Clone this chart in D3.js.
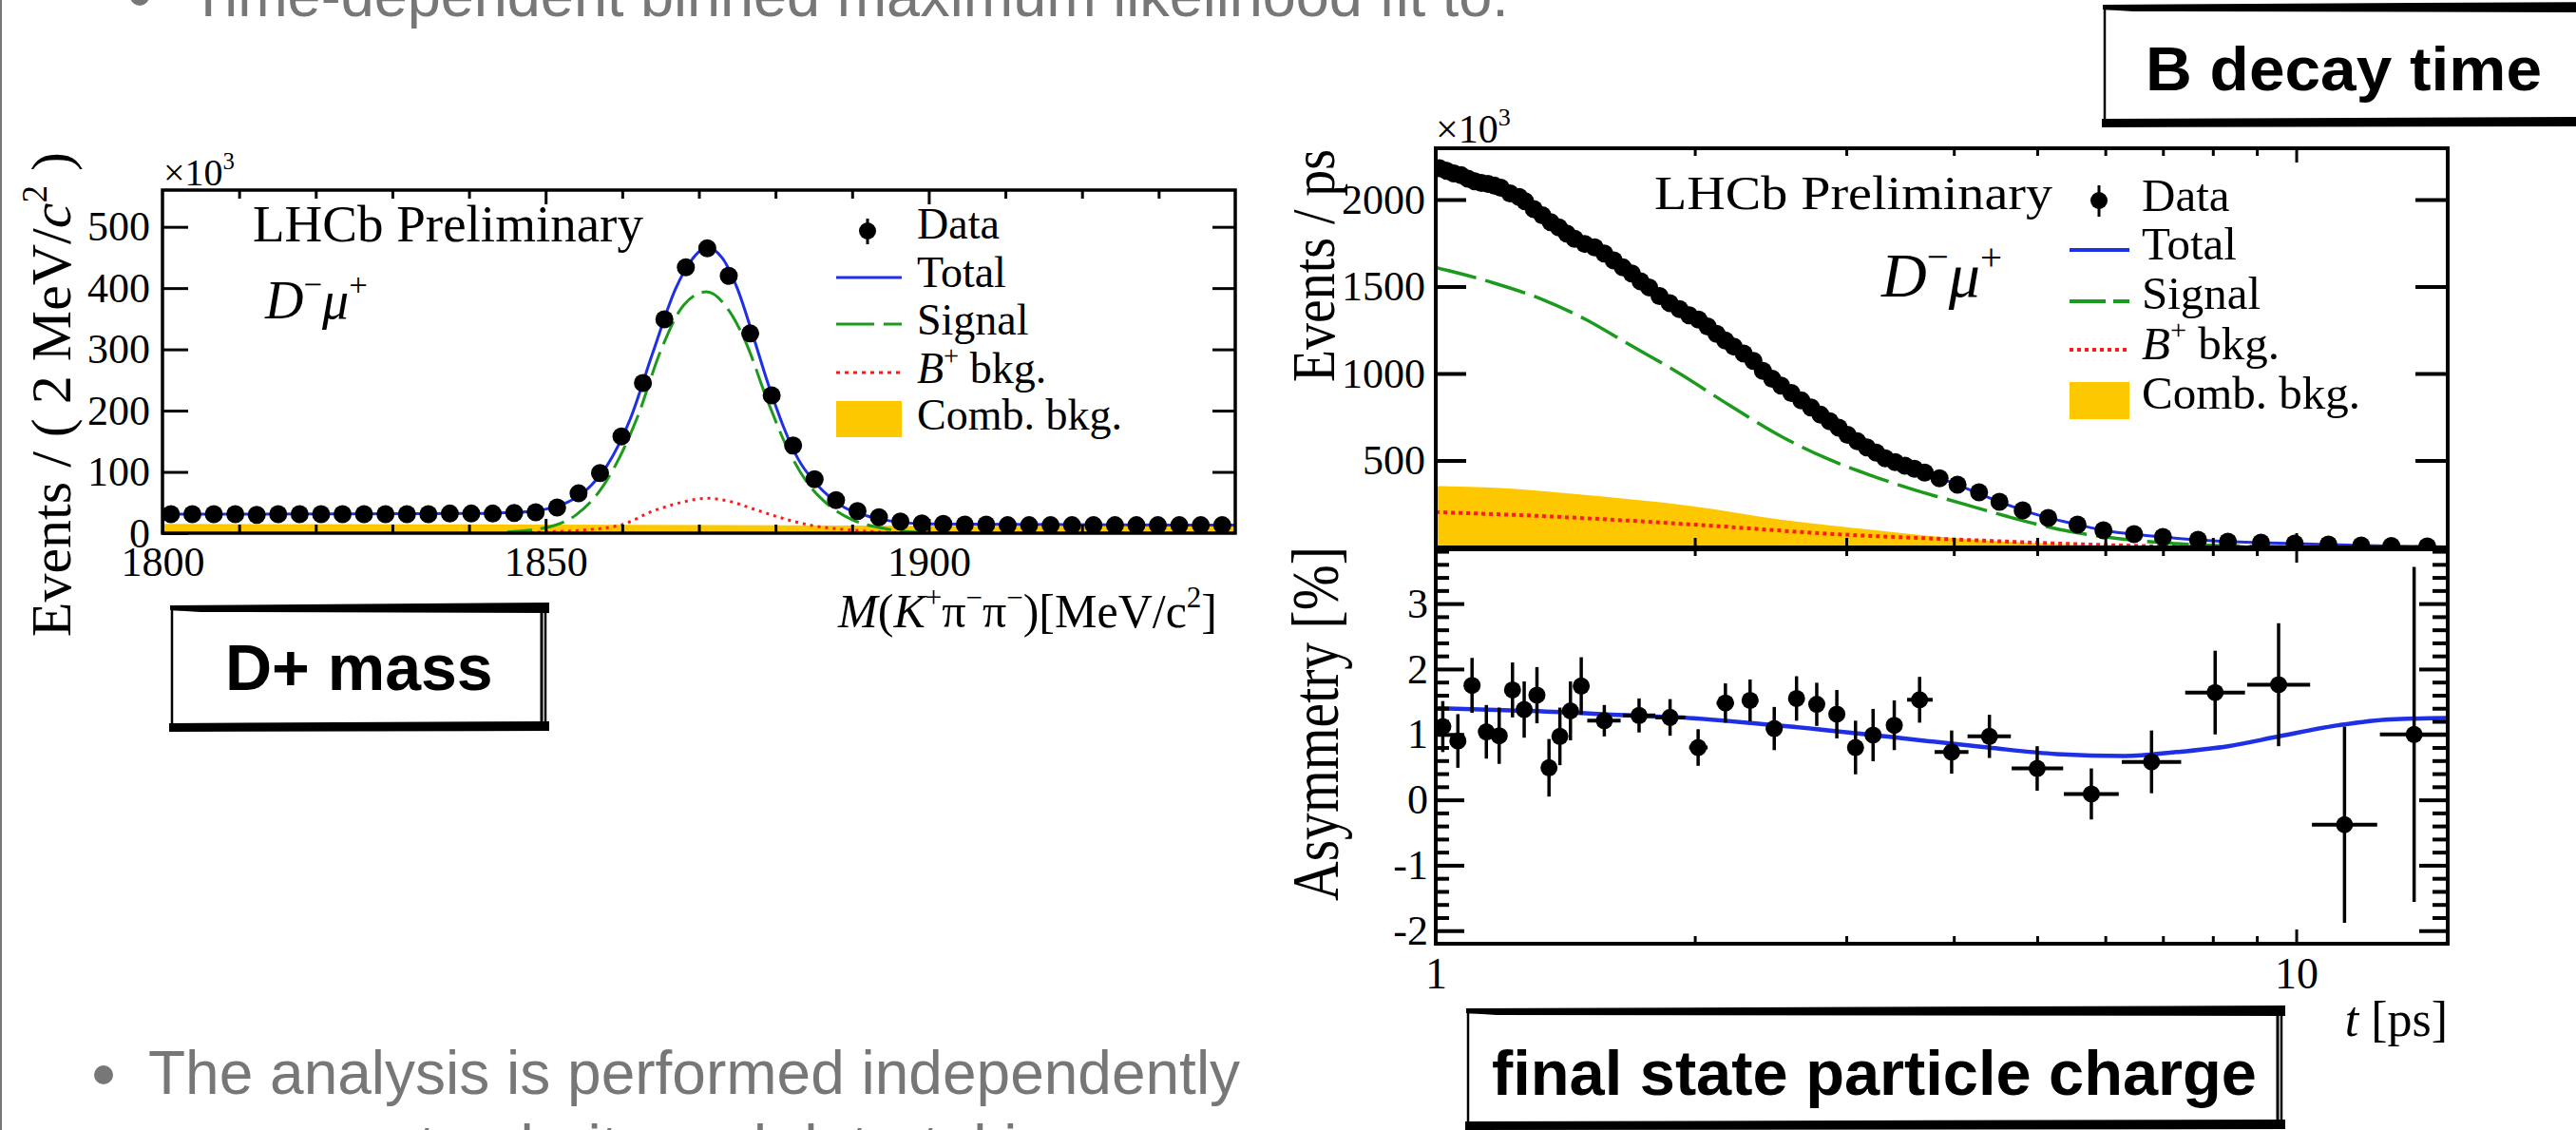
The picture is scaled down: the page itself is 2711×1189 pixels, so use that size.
<!DOCTYPE html>
<html>
<head>
<meta charset="utf-8">
<script src="https://cdn.jsdelivr.net/npm/d3@7"></script>
<style>
  body { margin: 0; background: #fff; }
  svg { display: block; }
</style>
</head>
<body>
<script>
// ---- slide text ----
var bulletTop = "Time-dependent binned maximum likelihood fit to:";
var bulletBottom = "The analysis is performed independently";
var bulletBottom2 = "on magnet polarity and data-taking year";

// ---- left plot: D+ mass (x10^3 events / 2 MeV) ----
var massBins = [1801.1, 1803.9, 1806.7, 1809.5, 1812.3, 1815.1, 1817.9, 1820.7, 1823.5, 1826.3,
  1829.1, 1831.9, 1834.7, 1837.5, 1840.3, 1843.1, 1845.9, 1848.7, 1851.5, 1854.3,
  1857.1, 1859.9, 1862.7, 1865.5, 1868.3, 1871.1, 1873.9, 1876.7, 1879.5, 1882.3,
  1885.1, 1887.9, 1890.7, 1893.5, 1896.3, 1899.1, 1901.9, 1904.7, 1907.5, 1910.3,
  1913.1, 1915.9, 1918.7, 1921.5, 1924.3, 1927.1, 1929.9, 1932.7, 1935.5, 1938.3];
var massCounts = [31, 31, 31, 31, 30, 31, 31, 31, 31, 31,
  31, 31, 31, 32, 32, 32, 33, 34, 42, 65,
  98, 158, 245, 349, 434, 465, 420, 326, 225, 143,
  88, 54, 36, 26, 19, 16, 15, 14, 14, 13,
  13, 13, 13, 13, 13, 13, 13, 13, 13, 13];
var massTotalX = [1800, 1840, 1846, 1849, 1852, 1855, 1858, 1861, 1864, 1867, 1869, 1871, 1873,
  1875, 1877, 1879, 1881, 1883, 1885, 1887, 1889, 1892, 1895, 1900, 1940];
var massTotalY = [31, 32, 34, 37, 46, 67, 110, 185, 295, 400, 445, 466, 450,
  400, 325, 245, 175, 120, 85, 60, 42, 28, 20, 15, 13];
var massSignalX = [1845, 1848, 1851, 1854, 1857, 1859, 1862, 1865, 1868, 1871, 1874, 1876,
  1879, 1881.5, 1884, 1887, 1890, 1894, 1898, 1905, 1940];
var massSignalY = [2, 5, 12, 30, 68, 108, 190, 297, 372, 394, 362, 315,
  215, 140, 85, 45, 22, 8, 2, 0, 0];
var massBplusX = [1845, 1850, 1855, 1860, 1864, 1868, 1871, 1874, 1877, 1881, 1885, 1890, 1895, 1900];
var massBplusY = [0, 2, 5, 14, 36, 51, 57, 52, 40, 24, 12, 5, 1, 0];
var massCombX = [1800, 1850, 1900, 1940];
var massCombY = [15, 14, 12, 11];
var massYTicks = [0, 100, 200, 300, 400, 500];
var massXTicks = [1800, 1850, 1900];
var massXMinor = [1810, 1820, 1830, 1840, 1860, 1870, 1880, 1890, 1910, 1920, 1930];

// ---- right plot: B decay time (x10^3 events / ps) ----
var decayT = [1.01, 1.03, 1.05, 1.07, 1.09, 1.11, 1.13, 1.15, 1.17, 1.19,
  1.22, 1.25, 1.27, 1.30, 1.33, 1.36, 1.39, 1.42, 1.45, 1.49,
  1.53, 1.57, 1.61, 1.65, 1.69, 1.73, 1.77, 1.82, 1.87, 1.92,
  1.97, 2.02, 2.07, 2.12, 2.17, 2.22, 2.28, 2.34, 2.40, 2.46,
  2.52, 2.59, 2.66, 2.73, 2.80, 2.87, 2.94, 3.01, 3.09, 3.17,
  3.25, 3.33, 3.42, 3.51, 3.60, 3.70, 3.85, 4.04, 4.28, 4.52,
  4.81, 5.15, 5.57, 5.97, 6.48, 7.00, 7.69, 8.33, 9.10, 9.96,
  10.9, 11.9, 12.9, 14.2];
var decayN = [2180, 2165, 2150, 2140, 2120, 2105, 2095, 2090, 2080, 2068,
  2035, 2015, 1990, 1945, 1910, 1870, 1840, 1805, 1775, 1745,
  1725, 1690, 1650, 1610, 1575, 1530, 1495, 1445, 1405, 1370,
  1335, 1310, 1270, 1228, 1190, 1155, 1115, 1072, 1015, 970,
  930, 888, 845, 805, 763, 725, 688, 648, 610, 575,
  545, 512, 490, 470, 452, 430, 398, 361, 317, 262,
  213, 169, 131, 98, 77, 60, 44, 33, 27, 22,
  16, 11, 8, 5];
var totalT = [1.0, 1.1, 1.2, 1.3, 1.4, 1.5, 1.6, 1.7, 1.8, 2.0, 2.2, 2.4, 2.6, 2.8, 3.0,
  3.3, 3.6, 4.0, 4.5, 5.0, 5.5, 6.0, 7.0, 8.0, 9.0, 10, 12, 15];
var totalN = [2190, 2110, 2065, 1950, 1832, 1740, 1656, 1565, 1462, 1320, 1168, 1016, 882, 763, 652,
  524, 452, 368, 266, 188, 137, 97, 60, 38, 28, 22, 11, 3];
var signalT = [1.0, 1.16, 1.33, 1.5, 1.66, 1.92, 2.2, 2.53, 2.84, 3.2, 3.65, 4.1, 4.6, 5.3, 6.0, 7.25, 9.0, 12, 15];
var signalN = [1610, 1525, 1426, 1306, 1180, 1000, 814, 634, 514, 415, 322, 251, 180, 104, 60, 22, 6, 1, 0];
var combT = [1.0, 1.16, 1.46, 2.0, 2.53, 3.25, 4.1, 5.15, 6.5, 8.1, 10, 15];
var combN = [352, 344, 306, 235, 158, 98, 49, 22, 11, 3, 1, 0];
var bplusT = [1.0, 1.33, 2.0, 2.9, 4.1, 5.8, 7.25, 10, 15];
var bplusN = [203, 180, 131, 77, 44, 16, 5, 1, 0];
var decayYTicks = [500, 1000, 1500, 2000];
var tMinor = [2, 3, 4, 5, 6, 7, 8, 9];
var tLabels = [1, 10];

// ---- right plot: asymmetry [%] ----
var asymT = [1.019, 1.061, 1.102, 1.145, 1.185, 1.228, 1.267, 1.311, 1.354, 1.394, 1.434, 1.476,
  1.570, 1.723, 1.872, 2.018, 2.171, 2.319, 2.474, 2.626, 2.772, 2.925, 3.075, 3.223, 3.411,
  3.65, 3.977, 4.40, 5.0, 5.78, 6.79, 8.05, 9.54, 11.38, 13.71];
var asymV = [1.12, 0.90, 1.75, 1.04, 0.98, 1.68, 1.38, 1.60, 0.49, 0.97, 1.36, 1.74,
  1.21, 1.29, 1.26, 0.80, 1.48, 1.52, 1.09, 1.55, 1.46, 1.31, 0.80, 0.99, 1.14,
  1.53, 0.73, 0.97, 0.48, 0.09, 0.58, 1.64, 1.76, -0.38, 1.00];
var asymErr = [0.39, 0.41, 0.42, 0.41, 0.43, 0.42, 0.43, 0.43, 0.44, 0.44, 0.45, 0.44,
  0.24, 0.26, 0.28, 0.28, 0.30, 0.32, 0.33, 0.34, 0.33, 0.37, 0.41, 0.40, 0.38,
  0.35, 0.33, 0.33, 0.34, 0.39, 0.48, 0.64, 0.94, 1.50, 2.56];
var asymLo = [1.0, 1.04, 1.08, 1.125, 1.165, 1.205, 1.25, 1.29, 1.335, 1.375, 1.415, 1.455,
  1.50, 1.65, 1.80, 1.97, 2.12, 2.27, 2.42, 2.57, 2.72, 2.87, 3.02, 3.17, 3.35,
  3.53, 3.80, 4.15, 4.67, 5.37, 6.27, 7.43, 8.77, 10.43, 12.51];
var asymHi = [1.04, 1.08, 1.125, 1.165, 1.205, 1.25, 1.29, 1.335, 1.375, 1.415, 1.455, 1.49,
  1.64, 1.80, 1.95, 2.07, 2.22, 2.37, 2.53, 2.68, 2.83, 2.98, 3.13, 3.28, 3.47,
  3.78, 4.16, 4.66, 5.36, 6.22, 7.35, 8.72, 10.38, 12.42, 15.0];
var asymFitT = [1.0, 1.2, 1.46, 1.6, 1.92, 2.53, 3.33, 4.38, 5.27, 6.32, 7.25, 8.33, 9.55, 11.2, 12.84, 15];
var asymFitV = [1.40, 1.37, 1.33, 1.30, 1.26, 1.13, 0.97, 0.80, 0.70, 0.67, 0.73, 0.82, 0.97, 1.14, 1.23, 1.25];
var asymYTicks = [-2, -1, 0, 1, 2, 3];
var asymYMinor = [-1.8, -1.6, -1.4, -1.2, -0.8, -0.6, -0.4, -0.2, 0.2, 0.4, 0.6, 0.8,
  1.2, 1.4, 1.6, 1.8, 2.2, 2.4, 2.6, 2.8, 3.2, 3.4, 3.6, 3.8];

var width = 2711;
var height = 1189;
var serif = "'Liberation Serif','Times New Roman',Times,serif";
var sans = "'Liberation Sans',Arial,Helvetica,sans-serif";
var gray = "#777777";
var blue = "#1f2fe6";
var green = "#1c9a1c";
var red = "#ff1a1a";
var yellow = "#fdc800";

var svg = d3.select("body").append("svg")
    .attr("width", width)
    .attr("height", height);

svg.append("rect").attr("width", width).attr("height", height).attr("fill", "#fff");
svg.append("line")
    .attr("x1", 1).attr("x2", 1).attr("y1", 0).attr("y2", height)
    .attr("stroke", gray).attr("stroke-width", 2);

// text with italic / superscript pieces
function rich(sel, segs, size) {
    var shift = 0;
    segs.forEach(function(s) {
        var target = s.sup ? -0.42 * size : 0;
        var ts = sel.append("tspan").text(s.t).attr("dy", target - shift);
        shift = target;
        if (s.sup) ts.attr("font-size", size * 0.62);
        if (s.it) ts.attr("font-style", "italic");
    });
    return sel;
}

function styleAxis(g, size, sw) {
    g.select(".domain").remove();
    g.selectAll("line").attr("stroke", "#000").attr("stroke-width", sw);
    g.attr("font-family", serif).attr("font-size", size);
    g.selectAll("text").attr("fill", "#000");
}

function roughBox(x0, y0, x1, y1) {
    var g = svg.append("g");
    g.append("rect").attr("x", x0).attr("y", y0).attr("width", x1 - x0).attr("height", y1 - y0)
        .attr("fill", "#fff").attr("stroke", "#000").attr("stroke-width", 2.5);
    g.append("path")
        .attr("d", "M" + (x0 - 2) + "," + (y0 - 4) + " L" + (x1 + 4) + "," + (y0 - 7) +
            " L" + (x1 + 4) + "," + (y0 + 4) + " L" + (x0 + 30) + "," + (y0 + 3) + " L" + (x0 - 2) + "," + (y0 + 1) + "Z")
        .attr("fill", "#000");
    g.append("path")
        .attr("d", "M" + (x0 - 3) + "," + (y1 - 3) + " L" + (x1 + 4) + "," + (y1 - 5) +
            " L" + (x1 + 4) + "," + (y1 + 5) + " L" + (x0 - 3) + "," + (y1 + 6) + "Z")
        .attr("fill", "#000");
    g.append("line").attr("x1", x1 - 4).attr("x2", x1 - 4).attr("y1", y0).attr("y2", y1)
        .attr("stroke", "#000").attr("stroke-width", 3);
    return g;
}

// ---------------- slide bullets ----------------
svg.append("circle").attr("cx", 147).attr("cy", -4).attr("r", 10).attr("fill", gray);
svg.append("text").attr("x", 200).attr("y", 17)
    .attr("font-family", sans).attr("font-size", 63).attr("fill", gray)
    .text(bulletTop);
svg.append("circle").attr("cx", 109).attr("cy", 1131).attr("r", 10).attr("fill", gray);
svg.append("text").attr("x", 156).attr("y", 1151)
    .attr("font-family", sans).attr("font-size", 64).attr("fill", gray)
    .text(bulletBottom);
svg.append("text").attr("x", 156).attr("y", 1229)
    .attr("font-family", sans).attr("font-size", 64).attr("fill", gray)
    .text(bulletBottom2);

// ---------------- left plot ----------------
var mX = d3.scaleLinear().domain([1800, 1940]).range([171, 1300]);
var mY = d3.scaleLinear().domain([0, 560]).range([561, 200]);

svg.append("clipPath").attr("id", "clipMass").append("rect")
    .attr("x", 171).attr("y", 200).attr("width", 1129).attr("height", 361);
var lp = svg.append("g").attr("clip-path", "url(#clipMass)");

lp.append("path")
    .datum(massCombX.map(function(d, i) { return [d, massCombY[i]]; }))
    .attr("fill", yellow)
    .attr("d", d3.area().x(d => mX(d[0])).y0(mY(0)).y1(d => mY(d[1])));

var mLine = d3.line().curve(d3.curveMonotoneX).x(d => mX(d[0])).y(d => mY(d[1]));

lp.append("path")
    .datum(massBplusX.map(function(d, i) { return [d, massBplusY[i]]; }))
    .attr("fill", "none").attr("stroke", red).attr("stroke-width", 3)
    .attr("stroke-dasharray", "3,5").attr("d", mLine);
lp.append("path")
    .datum(massSignalX.map(function(d, i) { return [d, massSignalY[i]]; }))
    .attr("fill", "none").attr("stroke", green).attr("stroke-width", 3)
    .attr("stroke-dasharray", "26,9").attr("d", mLine);
lp.append("path")
    .datum(massTotalX.map(function(d, i) { return [d, massTotalY[i]]; }))
    .attr("fill", "none").attr("stroke", blue).attr("stroke-width", 3)
    .attr("d", mLine);

lp.selectAll(".mdot")
    .data(massBins.map(function(d, i) { return [d, massCounts[i]]; }))
    .enter().append("circle")
    .attr("class", "mdot")
    .attr("cx", d => mX(d[0])).attr("cy", d => mY(d[1])).attr("r", 9.5)
    .attr("fill", "#000");

svg.append("rect").attr("x", 171).attr("y", 200).attr("width", 1129).attr("height", 361)
    .attr("fill", "none").attr("stroke", "#000").attr("stroke-width", 3.5);

var g;
g = svg.append("g").attr("transform", "translate(171,0)")
    .call(d3.axisLeft(mY).tickValues(massYTicks).tickSizeInner(-27).tickSizeOuter(0).tickPadding(13));
styleAxis(g, 44, 3);
g = svg.append("g").attr("transform", "translate(1300,0)")
    .call(d3.axisRight(mY).tickValues(massYTicks.slice(1)).tickSizeInner(-24).tickSizeOuter(0).tickFormat(""));
styleAxis(g, 44, 3);
g = svg.append("g").attr("transform", "translate(0,561)")
    .call(d3.axisBottom(mX).tickValues(massXTicks).tickSizeInner(-15).tickSizeOuter(0).tickPadding(14).tickFormat(d3.format("d")));
styleAxis(g, 44, 3);
g = svg.append("g").attr("transform", "translate(0,561)")
    .call(d3.axisBottom(mX).tickValues(massXMinor).tickSizeInner(-9).tickSizeOuter(0).tickFormat(""));
styleAxis(g, 44, 3);
g = svg.append("g").attr("transform", "translate(0,200)")
    .call(d3.axisTop(mX).tickValues(massXTicks.slice(1)).tickSizeInner(-15).tickSizeOuter(0).tickFormat(""));
styleAxis(g, 44, 3);
g = svg.append("g").attr("transform", "translate(0,200)")
    .call(d3.axisTop(mX).tickValues(massXMinor).tickSizeInner(-9).tickSizeOuter(0).tickFormat(""));
styleAxis(g, 44, 3);

rich(svg.append("text").attr("x", 172).attr("y", 195)
    .attr("font-family", serif).attr("font-size", 40),
    [{t: "\u00d710"}, {t: "3", sup: true}], 40);

rich(svg.append("text").attr("transform", "translate(74,160) rotate(-90)")
    .attr("text-anchor", "end").attr("font-family", serif).attr("font-size", 60),
    [{t: "Events / ( 2 MeV/"}, {t: "c", it: true}, {t: "2", sup: true}, {t: " )"}], 60);

rich(svg.append("text").attr("x", 1281).attr("y", 660).attr("text-anchor", "end")
    .attr("font-family", serif).attr("font-size", 50),
    [{t: "M", it: true}, {t: "("}, {t: "K", it: true}, {t: "+", sup: true}, {t: "\u03c0"},
     {t: "\u2212", sup: true}, {t: "\u03c0"}, {t: "\u2212", sup: true}, {t: ")[MeV/c"},
     {t: "2", sup: true}, {t: "]"}], 50);

svg.append("text").attr("x", 266).attr("y", 254)
    .attr("font-family", serif).attr("font-size", 55).text("LHCb Preliminary");
rich(svg.append("text").attr("x", 279).attr("y", 335)
    .attr("font-family", serif).attr("font-size", 56),
    [{t: "D", it: true}, {t: "\u2212", sup: true}, {t: "\u03bc", it: true}, {t: "+", sup: true}], 56);

// left legend
svg.append("line").attr("x1", 913).attr("x2", 913).attr("y1", 230).attr("y2", 257)
    .attr("stroke", "#000").attr("stroke-width", 3);
svg.append("circle").attr("cx", 913).attr("cy", 243).attr("r", 9).attr("fill", "#000");
svg.append("line").attr("x1", 880).attr("x2", 949).attr("y1", 292).attr("y2", 292)
    .attr("stroke", blue).attr("stroke-width", 3);
svg.append("line").attr("x1", 880).attr("x2", 949).attr("y1", 341).attr("y2", 341)
    .attr("stroke", green).attr("stroke-width", 3).attr("stroke-dasharray", "40,10");
svg.append("line").attr("x1", 880).attr("x2", 949).attr("y1", 392).attr("y2", 392)
    .attr("stroke", red).attr("stroke-width", 3).attr("stroke-dasharray", "4,5");
svg.append("rect").attr("x", 880).attr("y", 422).attr("width", 69).attr("height", 38).attr("fill", yellow);
var legL = [["Data", 251], ["Total", 302], ["Signal", 352]];
legL.forEach(function(d) {
    svg.append("text").attr("x", 965).attr("y", d[1]).attr("font-family", serif)
        .attr("font-size", 46).text(d[0]);
});
rich(svg.append("text").attr("x", 965).attr("y", 403).attr("font-family", serif).attr("font-size", 46),
    [{t: "B", it: true}, {t: "+", sup: true}, {t: " bkg."}], 46);
svg.append("text").attr("x", 965).attr("y", 452).attr("font-family", serif)
    .attr("font-size", 46).text("Comb. bkg.");

// ---------------- right plot ----------------
var tX = d3.scaleLog().domain([1, 15]).range([1511, 2576]);
var nY = d3.scaleLinear().domain([0, 2295]).range([576, 156]);
var aY = d3.scaleLinear().domain([-2.2, 3.83]).range([993, 578]);

svg.append("clipPath").attr("id", "clipDecay").append("rect")
    .attr("x", 1511).attr("y", 156).attr("width", 1065).attr("height", 420);
svg.append("clipPath").attr("id", "clipAsym").append("rect")
    .attr("x", 1511).attr("y", 578).attr("width", 1065).attr("height", 415);

var up = svg.append("g").attr("clip-path", "url(#clipDecay)");
up.append("path")
    .datum(combT.map(function(d, i) { return [d, combN[i]]; }))
    .attr("fill", yellow)
    .attr("d", d3.area().curve(d3.curveMonotoneX).x(d => tX(d[0])).y0(nY(0)).y1(d => nY(d[1])));

var tLine = d3.line().curve(d3.curveMonotoneX).x(d => tX(d[0])).y(d => nY(d[1]));
up.append("path")
    .datum(bplusT.map(function(d, i) { return [d, bplusN[i]]; }))
    .attr("fill", "none").attr("stroke", red).attr("stroke-width", 4)
    .attr("stroke-dasharray", "4,4").attr("d", tLine);
up.append("path")
    .datum(signalT.map(function(d, i) { return [d, signalN[i]]; }))
    .attr("fill", "none").attr("stroke", green).attr("stroke-width", 3.5)
    .attr("stroke-dasharray", "44,10").attr("d", tLine);
up.append("path")
    .datum(totalT.map(function(d, i) { return [d, totalN[i]]; }))
    .attr("fill", "none").attr("stroke", blue).attr("stroke-width", 3)
    .attr("d", tLine);
up.selectAll(".tdot")
    .data(decayT.map(function(d, i) { return [d, decayN[i]]; }))
    .enter().append("circle")
    .attr("class", "tdot")
    .attr("cx", d => tX(d[0])).attr("cy", d => nY(d[1])).attr("r", 9.5)
    .attr("fill", "#000");

var lo = svg.append("g").attr("clip-path", "url(#clipAsym)");
lo.append("path")
    .datum(asymFitT.map(function(d, i) { return [d, asymFitV[i]]; }))
    .attr("fill", "none").attr("stroke", blue).attr("stroke-width", 4.5)
    .attr("d", d3.line().curve(d3.curveMonotoneX).x(d => tX(d[0])).y(d => aY(d[1])));
var asym = asymT.map(function(d, i) {
    return {t: d, v: asymV[i], e: asymErr[i], lo: asymLo[i], hi: asymHi[i]};
});
lo.selectAll(".aerr").data(asym).enter().append("line")
    .attr("x1", d => tX(d.t)).attr("x2", d => tX(d.t))
    .attr("y1", d => aY(d.v + d.e)).attr("y2", d => aY(d.v - d.e))
    .attr("stroke", "#000").attr("stroke-width", 3.5);
lo.selectAll(".axerr").data(asym).enter().append("line")
    .attr("x1", d => tX(d.lo)).attr("x2", d => tX(d.hi))
    .attr("y1", d => aY(d.v)).attr("y2", d => aY(d.v))
    .attr("stroke", "#000").attr("stroke-width", 4);
lo.selectAll(".adot").data(asym).enter().append("circle")
    .attr("cx", d => tX(d.t)).attr("cy", d => aY(d.v)).attr("r", 9)
    .attr("fill", "#000");

svg.append("rect").attr("x", 1511).attr("y", 156).attr("width", 1065).attr("height", 420)
    .attr("fill", "none").attr("stroke", "#000").attr("stroke-width", 4);
svg.append("rect").attr("x", 1511).attr("y", 578).attr("width", 1065).attr("height", 415)
    .attr("fill", "none").attr("stroke", "#000").attr("stroke-width", 4);

// upper panel axes
g = svg.append("g").attr("transform", "translate(1511,0)")
    .call(d3.axisLeft(nY).tickValues(decayYTicks).tickSizeInner(-32).tickSizeOuter(0).tickPadding(11).tickFormat(d3.format("d")));
styleAxis(g, 44, 4);
g = svg.append("g").attr("transform", "translate(2576,0)")
    .call(d3.axisRight(nY).tickValues(decayYTicks).tickSizeInner(-34).tickSizeOuter(0).tickFormat(""));
styleAxis(g, 44, 4);
g = svg.append("g").attr("transform", "translate(0,156)")
    .call(d3.axisTop(tX).tickValues(tMinor).tickSizeInner(-8).tickSizeOuter(0).tickFormat(""));
styleAxis(g, 44, 3);
g = svg.append("g").attr("transform", "translate(0,156)")
    .call(d3.axisTop(tX).tickValues([10]).tickSizeInner(-15).tickSizeOuter(0).tickFormat(""));
styleAxis(g, 44, 3);
g = svg.append("g").attr("transform", "translate(0,576)")
    .call(d3.axisBottom(tX).tickValues(tMinor).tickSizeInner(-10).tickSizeOuter(0).tickFormat(""));
styleAxis(g, 44, 3);
g = svg.append("g").attr("transform", "translate(0,576)")
    .call(d3.axisBottom(tX).tickValues([10]).tickSizeInner(-15).tickSizeOuter(0).tickFormat(""));
styleAxis(g, 44, 3);

// lower panel axes
g = svg.append("g").attr("transform", "translate(1511,0)")
    .call(d3.axisLeft(aY).tickValues(asymYTicks).tickSizeInner(-30).tickSizeOuter(0).tickPadding(8).tickFormat(d => String(d)));
styleAxis(g, 44, 4);
g = svg.append("g").attr("transform", "translate(1511,0)")
    .call(d3.axisLeft(aY).tickValues(asymYMinor).tickSizeInner(-14).tickSizeOuter(0).tickFormat(""));
styleAxis(g, 44, 4);
g = svg.append("g").attr("transform", "translate(2576,0)")
    .call(d3.axisRight(aY).tickValues(asymYTicks).tickSizeInner(-30).tickSizeOuter(0).tickFormat(""));
styleAxis(g, 44, 4);
g = svg.append("g").attr("transform", "translate(2576,0)")
    .call(d3.axisRight(aY).tickValues(asymYMinor).tickSizeInner(-16).tickSizeOuter(0).tickFormat(""));
styleAxis(g, 44, 4);
g = svg.append("g").attr("transform", "translate(0,578)")
    .call(d3.axisTop(tX).tickValues(tMinor).tickSizeInner(-7).tickSizeOuter(0).tickFormat(""));
styleAxis(g, 44, 3);
g = svg.append("g").attr("transform", "translate(0,578)")
    .call(d3.axisTop(tX).tickValues([10]).tickSizeInner(-14).tickSizeOuter(0).tickFormat(""));
styleAxis(g, 44, 3);
g = svg.append("g").attr("transform", "translate(0,993)")
    .call(d3.axisBottom(tX).tickValues(tMinor).tickSizeInner(-8).tickSizeOuter(0).tickFormat(""));
styleAxis(g, 44, 3);
g = svg.append("g").attr("transform", "translate(0,993)")
    .call(d3.axisBottom(tX).tickValues(tLabels).tickSizeInner(-15).tickSizeOuter(0).tickPadding(14).tickFormat(d3.format("d")));
styleAxis(g, 46, 3);

rich(svg.append("text").attr("x", 1511).attr("y", 150)
    .attr("font-family", serif).attr("font-size", 42),
    [{t: "\u00d710"}, {t: "3", sup: true}], 42);
svg.append("text").attr("transform", "translate(1404,157) rotate(-90)")
    .attr("text-anchor", "end").attr("font-family", serif).attr("font-size", 64)
    .attr("textLength", 245).attr("lengthAdjust", "spacingAndGlyphs")
    .text("Events / ps");
svg.append("text").attr("transform", "translate(1408,575) rotate(-90)")
    .attr("text-anchor", "end").attr("font-family", serif).attr("font-size", 70)
    .attr("textLength", 373).attr("lengthAdjust", "spacingAndGlyphs")
    .text("Asymmetry [%]");
rich(svg.append("text").attr("x", 2576).attr("y", 1090).attr("text-anchor", "end")
    .attr("font-family", serif).attr("font-size", 52),
    [{t: "t", it: true}, {t: " [ps]"}], 52);

svg.append("text").attr("x", 1741).attr("y", 220)
    .attr("font-family", serif).attr("font-size", 50)
    .attr("textLength", 419).attr("lengthAdjust", "spacingAndGlyphs")
    .text("LHCb Preliminary");
rich(svg.append("text").attr("x", 1980).attr("y", 312)
    .attr("font-family", serif).attr("font-size", 66),
    [{t: "D", it: true}, {t: "\u2212", sup: true}, {t: "\u03bc", it: true}, {t: "+", sup: true}], 66);

// right legend
svg.append("line").attr("x1", 2209).attr("x2", 2209).attr("y1", 195).attr("y2", 228)
    .attr("stroke", "#000").attr("stroke-width", 3);
svg.append("circle").attr("cx", 2209).attr("cy", 211).attr("r", 9).attr("fill", "#000");
svg.append("line").attr("x1", 2178).attr("x2", 2241).attr("y1", 263).attr("y2", 263)
    .attr("stroke", blue).attr("stroke-width", 4);
svg.append("line").attr("x1", 2178).attr("x2", 2241).attr("y1", 317).attr("y2", 317)
    .attr("stroke", green).attr("stroke-width", 4).attr("stroke-dasharray", "38,8");
svg.append("line").attr("x1", 2178).attr("x2", 2241).attr("y1", 368).attr("y2", 368)
    .attr("stroke", red).attr("stroke-width", 4).attr("stroke-dasharray", "4,4");
svg.append("rect").attr("x", 2178).attr("y", 402).attr("width", 63).attr("height", 39).attr("fill", yellow);
var legR = [["Data", 222], ["Total", 273], ["Signal", 325]];
legR.forEach(function(d) {
    svg.append("text").attr("x", 2254).attr("y", d[1]).attr("font-family", serif)
        .attr("font-size", 49).text(d[0]);
});
rich(svg.append("text").attr("x", 2254).attr("y", 378).attr("font-family", serif).attr("font-size", 49),
    [{t: "B", it: true}, {t: "+", sup: true}, {t: " bkg."}], 49);
svg.append("text").attr("x", 2254).attr("y", 430).attr("font-family", serif)
    .attr("font-size", 49).text("Comb. bkg.");

// ---------------- labelled boxes ----------------
roughBox(2215, 9, 2730, 128);
svg.append("text").attr("x", 2258).attr("y", 95)
    .attr("font-family", sans).attr("font-weight", "bold").attr("font-size", 64)
    .attr("textLength", 417).attr("lengthAdjust", "spacingAndGlyphs")
    .text("B decay time");

roughBox(181, 641, 574, 764);
svg.append("text").attr("x", 237).attr("y", 726)
    .attr("font-family", sans).attr("font-weight", "bold").attr("font-size", 68)
    .text("D+ mass");

roughBox(1545, 1065, 2401, 1183);
svg.append("text").attr("x", 1570).attr("y", 1152)
    .attr("font-family", sans).attr("font-weight", "bold").attr("font-size", 66)
    .attr("textLength", 805).attr("lengthAdjust", "spacingAndGlyphs")
    .text("final state particle charge");
</script>
</body>
</html>
